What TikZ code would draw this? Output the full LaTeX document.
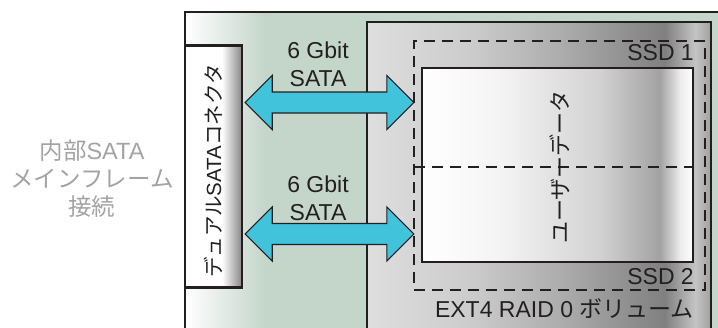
\documentclass[tikz,border=0pt]{standalone}
\usepackage{fontspec}
\setmainfont{Liberation Sans}
\newfontfamily\jp{Noto Sans CJK JP}
\usetikzlibrary{calc}
\definecolor{ink}{HTML}{231F20}
\definecolor{mint}{HTML}{C4D5CA}
\definecolor{cyanA}{HTML}{41C3DC}
\definecolor{lgray}{HTML}{A3A3A3}
\definecolor{gA}{HTML}{DEDEDE}
\definecolor{gB}{HTML}{CCCCCC}
\definecolor{gC}{HTML}{ADADAD}
\definecolor{gD}{HTML}{808080}
\definecolor{gE}{HTML}{C4C4C4}
\definecolor{gF}{HTML}{A0A0A0}
\definecolor{wA}{HTML}{F4F4F4}
\definecolor{wB}{HTML}{D2D2D2}
\definecolor{wC}{HTML}{A2A2A2}
\definecolor{wD}{HTML}{ECECEC}
\definecolor{cG}{HTML}{8C8C8C}
\pgfdeclarehorizontalshading{outershade}{100bp}{color(0bp)=(white); color(25bp)=(white); color(32.5bp)=(mint); color(100bp)=(mint)}
\pgfdeclarehorizontalshading{grayshade}{100bp}{color(0bp)=(gA); color(25bp)=(gA); color(40bp)=(gB); color(53bp)=(gC); color(68.3bp)=(gD); color(72.7bp)=(gE); color(75bp)=(gF); color(100bp)=(gF)}
\pgfdeclarehorizontalshading{whiteshade}{100bp}{color(0bp)=(white); color(25bp)=(white); color(39.4bp)=(wA); color(57.8bp)=(wB); color(68.9bp)=(wC); color(72.6bp)=(wD); color(75bp)=(white); color(100bp)=(white)}
\pgfdeclarehorizontalshading{connshade}{100bp}{color(0bp)=(white); color(25bp)=(white); color(57.5bp)=(white); color(74.1bp)=(cG); color(100bp)=(cG)}
\newcommand\dblarrow[2]{\draw[fatarrow] (#1) -- ($(#1)+(27,-27)$) -- ($(#1)+(27,-10.5)$) -- ($(#2)+(-27,-10.5)$) -- ($(#2)+(-27,-27)$) -- (#2) -- ($(#2)+(-27,27)$) -- ($(#2)+(-27,10.5)$) -- ($(#1)+(27,10.5)$) -- ($(#1)+(27,27)$) -- cycle;}
\tikzset{
  boxline/.style={draw=ink, line width=2.4pt},
  dashline/.style={draw=ink, line width=2.4pt, dash pattern=on 11pt off 7pt},
  fatarrow/.style={fill=cyanA, draw=ink, line width=1.1pt, line join=miter},
  lbl/.style={text=ink, font=\fontsize{23}{28}\selectfont, inner sep=0pt, align=center},
}
\begin{document}
\begin{tikzpicture}[x=1pt,y=-1pt]
\useasboundingbox (0,0) rectangle (718,327);
\clip (0,0) rectangle (718,327);
% outer mainframe box
\path[shade, shading=outershade] (185,12) rectangle (722,345);
\draw[boxline] (185,345) -- (185,12) -- (722,12);
% RAID volume box
\path[shade, shading=grayshade, boxline] (367,22) rectangle (711,345);
% user data box
\node[shade, shading=whiteshade, boxline, minimum width=271pt, minimum height=194pt, inner sep=0pt] (udata) at (557.5,165) {};
% dashed SSD box
\node[dashline, minimum width=291pt, minimum height=249pt, inner sep=0pt] (raid) at (559.5,165.5) {};
\draw[dashline] (414,167) -- (693,167);
% connector
\node[shade, shading=connshade, boxline, minimum width=57pt, minimum height=242pt, inner sep=0pt] (conn) at (213.5,166.5) {};
% arrows
\coordinate (a1l) at ($(conn.east)+(2,-64)$);
\coordinate (a1r) at ($(raid.west)+(1,-63)$);
\coordinate (a2l) at ($(conn.east)+(2,67.5)$);
\coordinate (a2r) at ($(raid.west)+(1,68.5)$);
\dblarrow{a1l}{a1r}
\dblarrow{a2l}{a2r}
% texts
\node[lbl] (sata1) at (318,64.5) {6 Gbit\\SATA};
\node[lbl] (sata2) at (318,198.5) {6 Gbit\\SATA};
\node[lbl, text=lgray, font=\fontsize{23.5}{28}\selectfont] (host) at (92,179) {{\jp 内部}SATA\\{\jp メインフレーム}\\{\jp 接続}};
\node[lbl, anchor=east] (ssd1) at (694,53) {SSD 1};
\node[lbl, anchor=east] (ssd2) at (694,277) {SSD 2};
\node[lbl, anchor=east] (ext) at (694,309) {EXT4 RAID 0 {\jp ボリューム}};
\node[lbl, rotate=90, font=\fontsize{20.5}{24}\selectfont] (conntext) at (213,171) {{\jp デュアル}SATA{\jp コネクタ}};
\node[lbl, rotate=90, font=\fontsize{22}{26}\selectfont] (udtext) at (560,167) {{\jp ユーザーデータ}};
\end{tikzpicture}
\end{document}
